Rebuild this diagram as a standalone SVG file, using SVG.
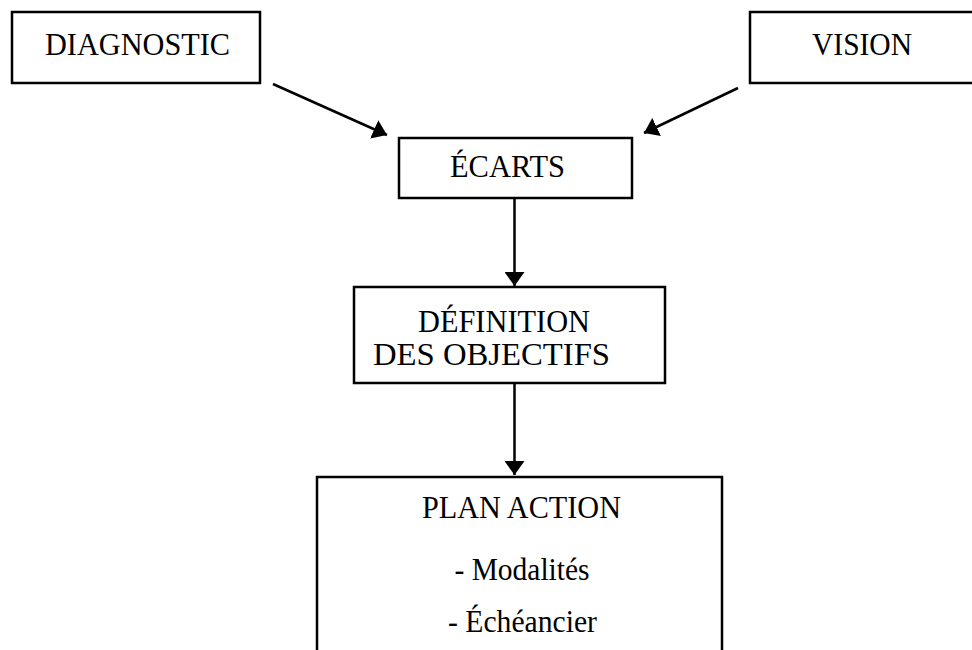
<svg xmlns="http://www.w3.org/2000/svg" width="972" height="650" viewBox="0 0 972 650">
<style>
.box{fill:#fff;stroke:#000;stroke-width:2.5}
.t{font-family:"Liberation Serif","Times New Roman",serif;font-size:32.5px;fill:#000;text-anchor:middle}
.c{stroke:#000;stroke-width:2.5;fill:none;marker-end:url(#ah)}
</style>
<defs>
<marker id="ah" viewBox="0 0 14 20" refX="14" refY="10" markerWidth="14" markerHeight="20" markerUnits="userSpaceOnUse" orient="auto">
<path d="M0,0 L14,10 L0,20 z" fill="#000"/>
</marker>
</defs>
<rect width="972" height="650" fill="#fff"/>
<g id="connectors">
<line class="c" x1="273" y1="84" x2="387" y2="135"/>
<line class="c" x1="738" y1="88" x2="644" y2="133"/>
<line class="c" x1="514.5" y1="198" x2="514.5" y2="286"/>
<line class="c" x1="514.5" y1="383" x2="514.5" y2="475"/>
</g>
<g id="diagnostic">
<rect class="box" x="12" y="12" width="248" height="71"/>
<text class="t" x="137.5" y="55" textLength="185" lengthAdjust="spacingAndGlyphs">DIAGNOSTIC</text>
</g>
<g id="vision">
<rect class="box" x="750" y="12" width="226" height="71"/>
<text class="t" x="862" y="55" textLength="100" lengthAdjust="spacingAndGlyphs">VISION</text>
</g>
<g id="ecarts">
<rect class="box" x="399" y="138" width="233" height="60"/>
<text class="t" x="507.5" y="177" textLength="115" lengthAdjust="spacingAndGlyphs">ÉCARTS</text>
</g>
<g id="definition">
<rect class="box" x="354" y="287" width="311" height="96"/>
<text class="t" x="504" y="332" textLength="172" lengthAdjust="spacingAndGlyphs">DÉFINITION</text>
<text class="t" x="491.5" y="365" textLength="237" lengthAdjust="spacingAndGlyphs">DES OBJECTIFS</text>
</g>
<g id="plan">
<rect class="box" x="317" y="477" width="405" height="180"/>
<text class="t" x="521.5" y="518" textLength="199" lengthAdjust="spacingAndGlyphs">PLAN ACTION</text>
<text class="t" x="522" y="580" textLength="135" lengthAdjust="spacingAndGlyphs">- Modalités</text>
<text class="t" x="522.5" y="632" textLength="149" lengthAdjust="spacingAndGlyphs">- Échéancier</text>
</g>
</svg>
